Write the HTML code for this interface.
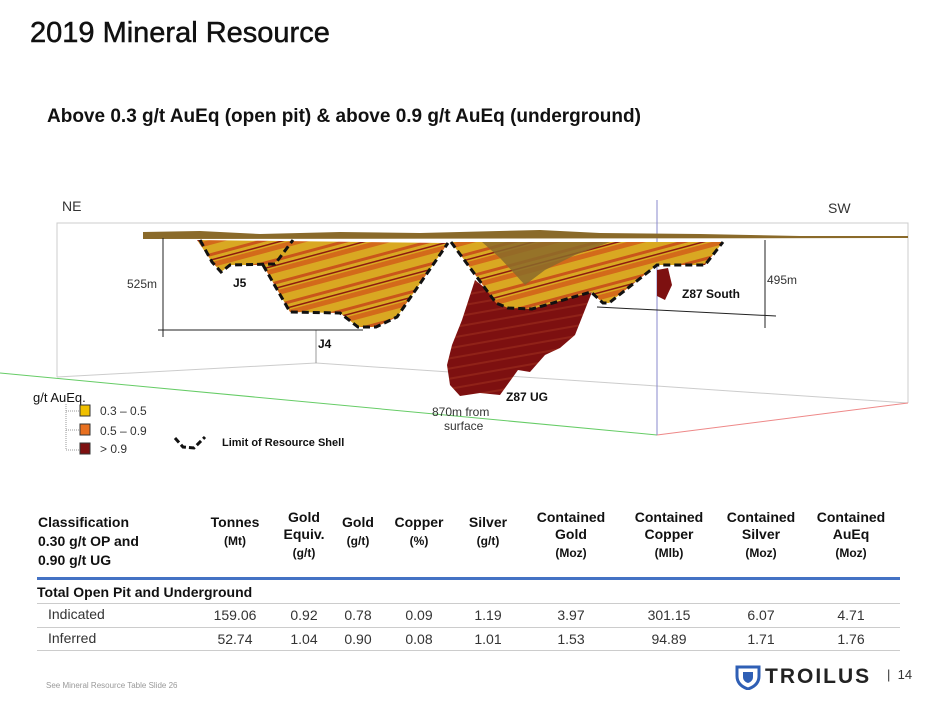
<!DOCTYPE html>
<html><head><meta charset="utf-8"><style>
body{margin:0;width:932px;height:704px;background:#fff;font-family:"Liberation Sans",sans-serif;overflow:hidden;position:relative}
.a{position:absolute;white-space:nowrap}
.h{font-weight:bold;font-size:14px;text-align:center;line-height:17px;color:#111}
.h small{font-size:12px;display:block}
.v{font-size:14px;color:#333}
</style></head><body>
<div class="a" style="left:30px;top:17px;font-size:29px;color:#111;-webkit-text-stroke:0.5px #111">2019 Mineral Resource</div>
<div class="a" style="left:47px;top:106px;font-size:19px;font-weight:bold;color:#111">Above 0.3 g/t AuEq (open pit) &amp; above 0.9 g/t AuEq (underground)</div>

<svg class="a" style="left:0;top:0" width="932" height="470">
<defs>
<pattern id="ore" width="22" height="22" patternUnits="userSpaceOnUse" patternTransform="rotate(75)">
<rect width="22" height="22" fill="#d9a822"/><rect width="5" height="22" fill="#d36a1a"/><rect x="13" width="3" height="22" fill="#c9561a"/><rect x="19" width="1.5" height="22" fill="#8c1a10"/></pattern>
<pattern id="ug" width="10" height="10" patternUnits="userSpaceOnUse" patternTransform="rotate(80)">
<rect width="10" height="10" fill="#7d1010"/><rect width="2" height="10" fill="#902218"/></pattern>
</defs>
<g fill="none" stroke-width="1">
<polyline points="57,377 57,223 908,223 908,403" stroke="#ccc"/>
<polyline points="57,377 316,363 908,403" stroke="#ccc"/>
<line x1="316" y1="363" x2="316" y2="330" stroke="#999"/>
<line x1="0" y1="373" x2="657" y2="435" stroke="#6c6"/>
<line x1="657" y1="435" x2="908" y2="403" stroke="#e88"/>
<line x1="657" y1="200" x2="657" y2="435" stroke="#88c"/>
</g>
<polygon fill="url(#ore)" points="197,240 212,262 221,272 230,265 263,265 290,312 340,313 358,327 376,327 397,317 448,243"/>
<polygon fill="url(#ug)" points="475,280 462,320 452,345 447,365 450,385 460,396 480,393 500,395 518,370 530,372 545,355 560,348 575,335 592,292 560,300 530,305 500,300"/>
<polygon fill="url(#ore)" points="451,242 496,303 508,308 532,309 591,292 603,303 609,303 657,265 705,265 723,242"/>
<polygon fill="#8a6a2a" opacity=".85" points="482,242 500,258 525,285 545,270 575,255 610,242"/>
<polygon fill="#7d1010" points="657,270 668,268 672,285 665,300 657,296"/>
<polygon fill="#8a6a2a" points="143,232 200,231 260,234 340,232 420,233 540,230 600,233 700,234 800,236 908,236 908,238 143,239"/>
<g stroke="#111" stroke-width="3" stroke-dasharray="7,4" fill="none">
<polyline points="200,240 212,262 221,272 230,265 275,264 293,240"/>
<polyline points="263,265 290,312 340,313 358,327 376,327 397,317 448,243"/>
<polyline points="451,242 496,303 508,308 532,309 591,292 603,303 609,303 657,265 705,265 723,242"/>
</g>
<g stroke="#222" stroke-width="1">
<line x1="163" y1="238" x2="163" y2="337"/><line x1="158" y1="330" x2="363" y2="330"/>
<line x1="765" y1="240" x2="765" y2="328"/><line x1="597" y1="307" x2="776" y2="316"/>
</g>
<g font-size="12" fill="#333">
<text x="62" y="211" font-size="14">NE</text><text x="828" y="213" font-size="14">SW</text>
<text x="127" y="288">525m</text><text x="767" y="284">495m</text>
<text x="432" y="416">870m from</text><text x="444" y="430">surface</text>
<text x="33" y="402" font-size="13" fill="#111">g/t AuEq.</text>
<text x="100" y="415">0.3 – 0.5</text><text x="100" y="435">0.5 – 0.9</text><text x="100" y="453">&gt; 0.9</text>
</g>
<g font-size="12" font-weight="bold" fill="#111">
<text x="233" y="287">J5</text><text x="318" y="348">J4</text>
<text x="682" y="298">Z87 South</text><text x="506" y="401">Z87 UG</text>
<text x="222" y="446" font-size="11">Limit of Resource Shell</text>
</g>
<g stroke="#999" stroke-dasharray="1,1" fill="none"><polyline points="66,404 66,450 80,450"/><line x1="66" y1="411" x2="80" y2="411"/><line x1="66" y1="430" x2="80" y2="430"/></g>
<rect x="80" y="405" width="10" height="11" fill="#f0c000" stroke="#333"/>
<rect x="80" y="424" width="10" height="11" fill="#e87020" stroke="#333"/>
<rect x="80" y="443" width="10" height="11" fill="#7d1010" stroke="#333"/>
<polyline points="175,438 183,447 194,448 205,437" fill="none" stroke="#111" stroke-width="3" stroke-dasharray="6,3"/>
</svg>

<div class="a h" style="left:38px;top:513px;text-align:left;line-height:19px">Classification<br>0.30 g/t OP and<br>0.90 g/t UG</div>
<div id="hdr"></div>
<div class="a" style="left:37px;top:577px;width:863px;height:3px;background:#4472c4"></div>
<div class="a" style="left:37px;top:584px;font-size:14px;font-weight:bold;color:#111">Total Open Pit and Underground</div>
<div class="a" style="left:37px;top:603px;width:863px;height:1px;background:#ccc"></div>
<div class="a" style="left:37px;top:627px;width:863px;height:1px;background:#ccc"></div>
<div class="a" style="left:37px;top:650px;width:863px;height:1px;background:#ccc"></div>
<div id="rows"></div>

<div class="a" style="left:46px;top:681px;font-size:8px;color:#999">See Mineral Resource Table Slide 26</div>
<svg class="a" style="left:735px;top:664px" width="26" height="26"><path d="M2 3h22v9c0 7-5 11-11 13C7 23 2 19 2 12z" fill="none" stroke="#2f5fb5" stroke-width="3"/><path d="M8 8h10v5c0 3-2 5-5 6-3-1-5-3-5-6z" fill="#2f5fb5"/></svg>
<div class="a" style="left:765px;top:665px;font-size:21px;font-weight:bold;letter-spacing:2px;color:#222">TROILUS</div>
<div class="a" style="left:887px;top:667px;font-size:13px;color:#333">|&nbsp; 14</div>

<script>
const headers=[["Tonnes","(Mt)"],["Gold<br>Equiv.","(g/t)"],["Gold","(g/t)"],["Copper","(%)"],["Silver","(g/t)"],["Contained<br>Gold","(Moz)"],["Contained<br>Copper","(Mlb)"],["Contained<br>Silver","(Moz)"],["Contained<br>AuEq","(Moz)"]];
const colCenters=[235,304,358,419,488,571,669,761,851];
const rowLabels=["Indicated","Inferred"];
const indicated=["159.06","0.92","0.78","0.09","1.19","3.97","301.15","6.07","4.71"];
const inferred=["52.74","1.04","0.90","0.08","1.01","1.53","94.89","1.71","1.76"];
const hdr=document.getElementById('hdr');
headers.forEach((h,i)=>{
 const d=document.createElement('div');d.className='a h';
 
 
 const two=h[0].includes('<br>');
 d.style.left=(colCenters[i]-50)+'px';d.style.width='100px';d.style.top=(two?509:514)+'px';
 d.innerHTML=h[0]+'<small style="margin-top:2px">'+h[1]+'</small>';hdr.appendChild(d);
});
const rows=document.getElementById('rows');
[indicated,inferred].forEach((vals,r)=>{
 const y=606+r*24;
 const l=document.createElement('div');l.className='a v';
 
 
 l.style.left='48px';l.style.top=y+'px';l.textContent=rowLabels[r];rows.appendChild(l);
 vals.forEach((v,i)=>{
  const c=document.createElement('div');c.className='a v';
  
  
  c.style.left=(colCenters[i]-50)+'px';c.style.width='100px';c.style.textAlign='center';c.style.top=(y+1)+'px';
  c.textContent=v;rows.appendChild(c);
 });
});
</script>
</body></html>
